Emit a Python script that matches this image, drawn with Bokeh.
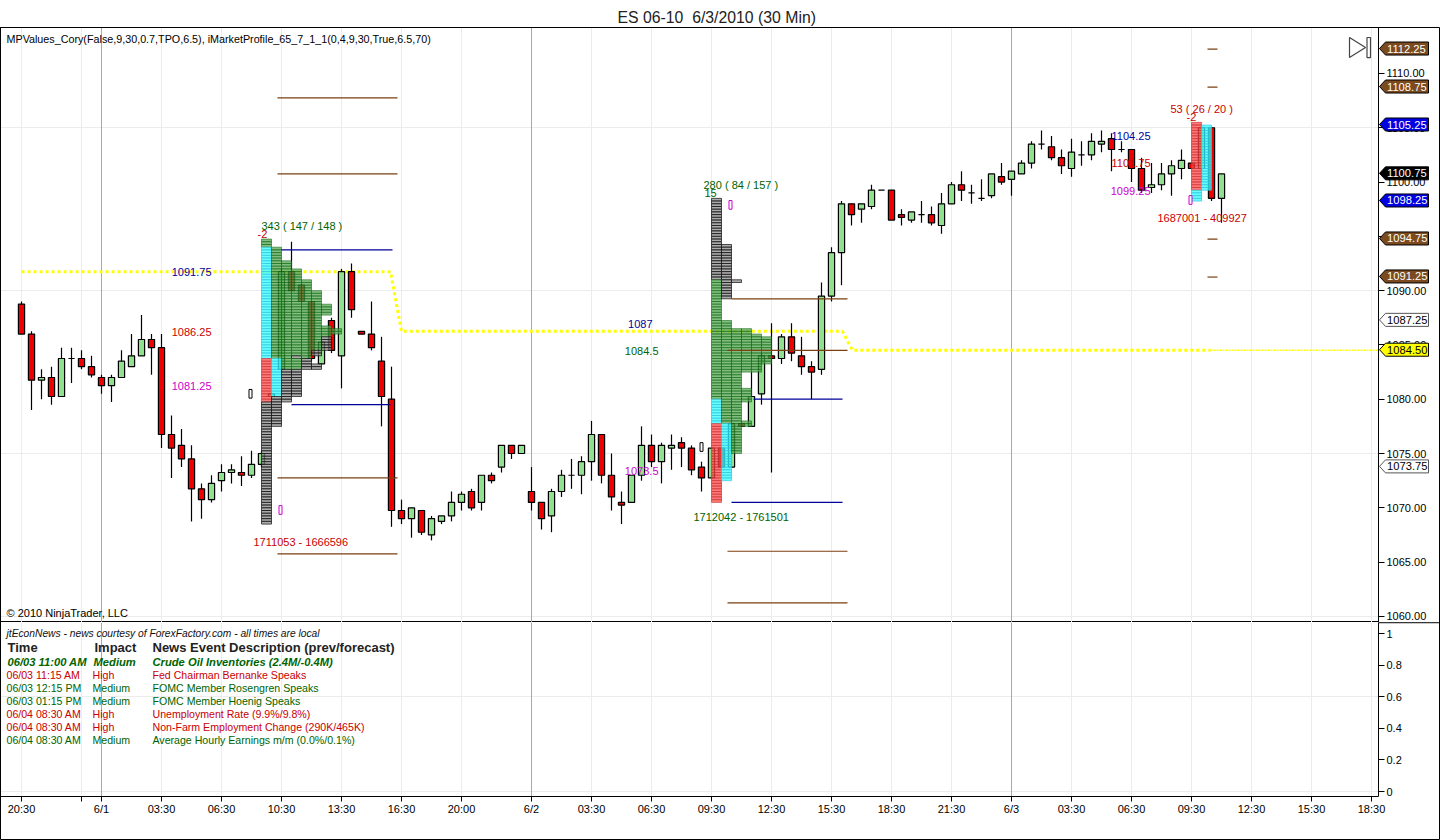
from bokeh.plotting import figure
from bokeh.layouts import column
from bokeh.models import FixedTicker, NumeralTickFormatter, Range1d, Span, ColumnDataSource
from bokeh.core.properties import value
from bokeh.embed import file_html
from bokeh.resources import INLINE

FONT = "Liberation Sans"

# ---------- candles (30 min bars) ----------
opens = [1088.75,1086,1081.75,1082,1080.25,1083.75,1083.75,1083,1082,1081.25,1082,1083,1084,1085.5,1084.75,
 1076.75,1075.75,1074.5,1071.75,1070.75,1072.5,1073.25,1073.25,1073,1074,1080.25,1082.75,1091.75,1090.5,1089,
 1083.25,1087.25,1084,1091.75,1086.25,1086,1083.5,1080,1069.75,1069,1069.75,1067.5,1068.75,1069.25,1070.5,
 1071.5,1070.5,1073,1073.75,1075.75,1075,1071.5,1070.5,1069.25,1071.5,1073,1073,1074.25,1076.75,1073,
 1070.5,1070.5,1073,1075.75,1074.25,1075.5,1076,1075.5,1073.75,1072.75,1075.5,1073.75,1077.75,1077.5,1080.5,
 1084,1083.75,1085.75,1084,1083,1082.75,1089.5,1093.5,1098,1097.5,1097.75,1099.25,1099.25,1097,1096.5,
 1097,1097,1096,1098,1099.75,1099,1098.5,1098.75,1100.5,1100.25,1100.75,1101.75,1103.5,1103.25,1102.25,
 1101.25,1102.5,1102.5,1103.5,1104,1103,1103,1101.25,1099.5,1099.75,1100.75,1101.25,1101.75,1101.25,1105,1098.5]
highs = [1089,1086.25,1082.75,1083,1084.75,1084.75,1084.5,1084,1082.25,1082.25,1084.5,1086,1087.75,1086,1086,
 1078.5,1077.25,1075.75,1072.25,1073,1074,1074,1074.75,1075.25,1075.25,1080.5,1092,1094.5,1090.5,1089,
 1085.25,1087.5,1092,1092.5,1086.25,1089,1085.75,1083,1070.75,1070,1069.75,1069.25,1069.25,1071.5,1071.5,
 1071.75,1073,1073.25,1075.75,1075.75,1075.75,1073.75,1070.5,1071.75,1073.5,1074.5,1074.75,1078,1076.75,1075,
 1071.5,1073,1077.5,1076.75,1076,1076.75,1076.5,1075.75,1074.25,1075.5,1075.5,1077.75,1077.75,1082.5,1084.25,
 1087,1086,1087,1085.75,1083.5,1090.75,1094,1098.25,1098,1098,1099.75,1099.25,1099.25,1097.5,1097.25,
 1098.25,1097.75,1099,1100,1101,1099.75,1100.25,1100.75,1101.75,1101,1102,1103.75,1104.75,1104.25,1103,
 1104,1103.75,1104.5,1104.75,1104.5,1103.75,1103,1102.25,1101.75,1101.75,1102,1103,1101.75,1105.25,1105,1100.75]
lows = [1086,1079,1080,1079.5,1080.25,1081.5,1082.75,1082,1080.5,1079.75,1082,1083,1084,1082.25,1075.5,
 1072.75,1073.75,1068.75,1069,1070.5,1071.5,1072.25,1072,1072.75,1073.75,1080.25,1082.5,1090,1089,1083.5,
 1083.25,1084.25,1081,1087.5,1086,1084.5,1077.5,1068.25,1068.5,1067.25,1067.5,1067,1068.5,1068.75,1069.75,
 1069.75,1069.75,1072.25,1073.25,1074.5,1075,1069.75,1068,1067.75,1071,1071.75,1071.25,1072.5,1072.25,1069.75,
 1068.5,1070.5,1072.5,1073.75,1072.25,1073.5,1073.75,1073,1071.5,1072.75,1073.75,1073.75,1077.5,1077.5,1079.5,
 1073.25,1083.25,1083.5,1082.25,1080,1082.25,1089,1090.5,1096,1096.25,1097.5,1099.25,1096.5,1096,1096.25,
 1096.25,1096,1095.25,1098,1098.25,1098,1098.25,1098.5,1099.75,1098.75,1100.75,1101.25,1103,1102,1100.75,
 1100.5,1101.5,1102,1102.75,1101,1102.75,1100,1099,1099,1099.25,1098.75,1100.25,1101.25,1100,1098.25,1096.25]
closes = [1086,1081.75,1082,1080.25,1083.75,1083.75,1083,1082.25,1081.25,1082,1083.5,1084,1085.5,1084.75,1076.75,
 1075.5,1074.5,1071.75,1070.75,1072.25,1073.25,1073.5,1073,1074,1075,1080.5,1091.75,1090,1089,1083.75,
 1085.25,1084.5,1091.75,1088.25,1086,1084.75,1080.25,1069.75,1069,1070,1067.75,1069,1069.25,1070.5,1071.25,
 1070,1073,1072.5,1075.75,1075,1075.75,1070.5,1069,1071.5,1073,1073,1074.25,1076.75,1073,1071,
 1070.25,1073,1075.75,1074.25,1075.75,1075.75,1075.5,1073.5,1072.75,1075.5,1073.75,1077.75,1077.5,1080.25,1084,
 1083.75,1085.75,1084.25,1083,1082.5,1089.5,1093.5,1098,1097,1098,1099.25,1099.25,1096.5,1096.75,1097.25,
 1097,1096.25,1098,1099.75,1099.25,1099,1098.5,1100.75,1100,1101,1101.75,1103.5,1103.5,1102.25,1101.5,
 1102.75,1102.5,1103.75,1103.75,1103,1103,1101.25,1099.25,1099.75,1100.75,1101.5,1102,1101.25,1105,1098.5,1100.75]

# ---------- market-profile blocks: (column, top price, bottom price, kind) ----------
profile_1_start = 24
profile_1 = [(0,1094.75,1094,"g"),(0,1094,1083.75,"c"),(0,1083.75,1079.75,"r"),(0,1079.75,1068.5,"k"),
 (1,1094,1083.75,"g"),(1,1083.75,1080.25,"c"),(1,1080.25,1077.5,"k"),
 (2,1092.75,1082.75,"g"),(2,1082.75,1079.75,"k"),
 (3,1092,1084,"g"),(3,1084,1083.75,"k"),(3,1083.75,1082.75,"g"),(3,1082.75,1080.25,"k"),
 (4,1091,1083.75,"g"),(4,1083.75,1082.75,"k"),
 (5,1090,1084.5,"g"),(5,1084.5,1084,"k"),(5,1083.25,1082.75,"k"),
 (6,1088.75,1087.75,"g"),(6,1086.75,1085.75,"g"),(6,1085.75,1084.5,"k"),
 (7,1086.5,1086,"g")]
profile_2_start = 69
profile_2 = [(0,1098.5,1091,"k"),(0,1091,1080,"g"),(0,1080,1077.75,"c"),(0,1077.75,1070.5,"r"),
 (1,1094.25,1089.25,"k"),(1,1087.25,1077.75,"g"),(1,1077.75,1072.5,"c"),
 (2,1091,1090.75,"k"),(2,1086.5,1075,"g"),
 (3,1086.5,1082.5,"g"),(3,1081,1079.75,"g"),(3,1078,1077.5,"g"),
 (4,1086,1082.5,"g"),
 (5,1085.75,1083.25,"g")]
profile_3_start = 117
profile_3 = [(0,1105.5,1099.25,"r"),(0,1099.25,1098.25,"c"),(1,1105.25,1099.25,"c")]

kind_fill = {"g": "#52a552", "k": "#8c8c8c", "c": "#30ffff", "r": "#ff4848"}
kind_line = {"g": "#0a620a", "k": "#101010", "c": "#30c4e0", "r": "#cc3030"}
kind_line_alpha = {"g": 0.72, "k": 0.95, "c": 0.9, "r": 0.85}

# ---------- value-area lines ----------
va_x0 = [26, 27, 25.6, 25.6, 25.6, 25.6, 73.2, 71, 71, 70.6, 70.6, 70.6, 118.6, 118.6, 118.6, 118.6]
va_x1 = [37.1, 36.9, 37.6, 37.6, 37.6, 37.6, 82.1, 82.1, 82.6, 82.6, 82.6, 82.6, 119.6, 119.6, 119.6, 119.6]
va_y = [1093.75, 1079.5, 1107.75, 1100.75, 1072.75, 1065.75, 1080, 1070.5, 1089.25, 1084.5, 1066, 1061.25,
        1112.25, 1108.75, 1094.75, 1091.25]
va_color = ["#000099", "#000099", "#7b3f10", "#7b3f10", "#7b3f10", "#7b3f10", "#000099", "#000099",
            "#7b3f10", "#7b3f10", "#7b3f10", "#7b3f10", "#7b3f10", "#7b3f10", "#7b3f10", "#7b3f10"]

poc_x = [0, 36.9, 38, 82.1, 83.1, 118.9]
poc_y = [1091.75, 1091.75, 1086.25, 1086.25, 1084.5, 1084.5]

# ---------- price tags on the right scale ----------
tag_values = [1112.25, 1108.75, 1105.25, 1100.75, 1098.25, 1094.75, 1091.25, 1087.25, 1084.50, 1073.75]
tag_fill = ["#7b4a1e", "#7b4a1e", "#0000e0", "#000000", "#0000e0", "#7b4a1e", "#7b4a1e", "#ffffff", "#ffff00", "#ffffff"]
tag_text = ["#ffffff", "#ffffff", "#ffffff", "#ffffff", "#ffffff", "#ffffff", "#ffffff", "#000000", "#000000", "#000000"]

# ---------- axis ----------
x_ticks = [0, 6, 8, 14, 20, 26, 32, 38, 44, 51, 57, 63, 69, 75, 81, 87, 93, 99, 105, 111, 117, 123, 129, 135]
x_labels = ["20:30", " ", "6/1", "03:30", "06:30", "10:30", "13:30", "16:30", "20:00", "6/2", "03:30", "06:30",
            "09:30", "12:30", "15:30", "18:30", "21:30", "6/3", "03:30", "06:30", "09:30", "12:30", "15:30", "18:30"]
session_breaks = [8, 51, 99]
price_ticks = [1060, 1065, 1070, 1075, 1080, 1085, 1090, 1095, 1100, 1105, 1110]
price_grid = [1060, 1075, 1090, 1105]
news_ticks = [0, 0.2, 0.4, 0.6, 0.8, 1]

# ---------- news ----------
news_times = ["06/03 11:15 AM", "06/03 12:15 PM", "06/03 01:15 PM", "06/04 08:30 AM", "06/04 08:30 AM", "06/04 08:30 AM"]
news_impact = ["High", "Medium", "Medium", "High", "High", "Medium"]
news_desc = ["Fed Chairman Bernanke Speaks", "FOMC Member Rosengren Speaks", "FOMC Member Hoenig Speaks",
             "Unemployment Rate (9.9%/9.8%)", "Non-Farm Employment Change (290K/465K)",
             "Average Hourly Earnings m/m (0.0%/0.1%)"]

RED = "#c80000"; GRN = "#006400"; NAVY = "#0000a0"; MAG = "#cc00cc"

# reference pixel -> bar index / price, for annotation placement
def bx(px): return (px - 21) / 10
def py(px): return 1100 - (px - 181.3) / 10.84

X_RANGE = (bx(0), bx(1378))
p = figure(width=1440, height=622, output_backend="svg", toolbar_location=None,
           x_range=Range1d(*X_RANGE), y_range=Range1d(py(621), py(27)),
           x_axis_location=None, y_axis_location="right",
           min_border_left=0, min_border_right=62, min_border_bottom=0, min_border_top=27,
           outline_line_color="#000000", title="ES 06-10 \u00a06/3/2010 (30 Min)")
p.title.text_font = FONT; p.title.text_font_size = "15.8px"; p.title.text_font_style = "normal"
p.title.text_color = "#222222"; p.title.offset = 617; p.title.standoff = 4

def style_axis(ax):
    ax.major_label_text_font = FONT
    ax.major_label_text_font_size = "11px"
    ax.major_label_text_color = "#000000"
    ax.axis_line_color = "#000000"
    ax.major_tick_line_color = "#000000"
    ax.major_tick_in = 0; ax.major_tick_out = 6
    ax.minor_tick_line_color = None
    ax.major_label_standoff = 2

yax = p.yaxis[0]
yax.ticker = FixedTicker(ticks=price_ticks)
yax.formatter = NumeralTickFormatter(format="0.00")
style_axis(yax)
p.ygrid.ticker = FixedTicker(ticks=price_grid)
p.ygrid.grid_line_color = "#ececec"
p.xgrid.ticker = FixedTicker(ticks=x_ticks)
p.xgrid.grid_line_color = "#ececec"
for b in session_breaks:
    p.add_layout(Span(location=b, dimension="height", line_color="#a8a8a8", line_width=1, level="underlay"))

# POC line
p.line(poc_x, poc_y, line_color="#ffff00", line_width=3, line_dash="3 3")
p.line([118.9, X_RANGE[1]], [1084.5, 1084.5], line_color="#ffff00", line_width=1.5, line_dash="2 1")

# candles
idx = list(range(len(opens)))
src = ColumnDataSource(dict(x=idx, o=opens, h=highs, l=lows, c=closes,
        top=[max(a, b) for a, b in zip(opens, closes)], bot=[min(a, b) for a, b in zip(opens, closes)],
        col=["#90e090" if c > o else ("#ee0000" if c < o else "#000000") for o, c in zip(opens, closes)]))
p.segment("x", "h", "x", "l", source=src, line_color="#000000", line_width=1.2)
p.vbar("x", 0.62, "top", "bot", source=src, fill_color="col", line_color="#000000", line_width=1.2)

# profile cells, one per 0.25 point
for start, blocks in ((profile_1_start, profile_1), (profile_2_start, profile_2), (profile_3_start, profile_3)):
    L, R, T, B, F, C, A = [], [], [], [], [], [], []
    for col, top, bot, kind in blocks:
        lev = top
        while lev > bot:
            L.append(start + col); R.append(start + col + 1.0)
            T.append(lev); B.append(lev - 0.25)
            F.append(kind_fill[kind]); C.append(kind_line[kind]); A.append(kind_line_alpha[kind])
            lev -= 0.25
    p.quad(left=L, right=R, top=T, bottom=B, fill_color=F, line_color=C,
           fill_alpha=0.72, line_alpha=A, line_width=0.75)

# value area lines over the profile
p.segment(va_x0, va_y, va_x1, va_y, line_color=va_color, line_width=1.2)

# zero-print markers
p.quad(left=[25.75, 70.75, 116.75], right=[26.05, 71.05, 117.05], top=[1070.2, 1098.3, 1098.75],
       bottom=[1069.4, 1097.5, 1097.95], fill_color="#ffffff", line_color=MAG, line_width=1)
p.quad(left=[22.75, 67.85], right=[23.05, 68.15], top=[1080.9, 1076], bottom=[1080.1, 1075.2],
       fill_color="#ffffff", line_color="#000000", line_width=1)

# chart texts
def txt(fig, fx, fy, s, color, size="11px", style="normal", align="left"):
    fig.text([fx], [fy], text=[s], text_color=color, text_font=value(FONT), text_font_size=size,
             text_font_style=style, text_align=align, text_baseline="middle")

chart_texts = [
    (6, 38, "MPValues_Cory(False,9,30,0.7,TPO,6.5), iMarketProfile_65_7_1_1(0,4,9,30,True,6.5,70)", "#000000", "left", "10.75px"),
    (6, 612, "\u00a9 2010 NinjaTrader, LLC", "#000000", "left", "11px"),
    (261, 225, "343 ( 147 / 148 )", GRN, "left", "11px"),
    (257, 233, "-2", RED, "left", "11px"),
    (211, 271, "1091.75", NAVY, "right", "11px"),
    (211, 331, "1086.25", RED, "right", "11px"),
    (211, 385, "1081.25", MAG, "right", "11px"),
    (253, 541, "1711053 - 1666596", RED, "left", "11px"),
    (652, 323, "1087", NAVY, "right", "11px"),
    (658, 350, "1084.5", GRN, "right", "11px"),
    (658, 470, "1073.5", MAG, "right", "11px"),
    (703, 184, "280 ( 84 / 157 )", GRN, "left", "11px"),
    (704, 192, "15", GRN, "left", "11px"),
    (693, 516, "1712042 - 1761501", GRN, "left", "11px"),
    (1170, 108, "53 ( 26 / 20 )", RED, "left", "11px"),
    (1186, 116, "-2", RED, "left", "11px"),
    (1150, 135, "1104.25", NAVY, "right", "11px"),
    (1150, 162, "1101.75", RED, "right", "11px"),
    (1150, 190, "1099.25", MAG, "right", "11px"),
    (1157, 217, "1687001 - 409927", RED, "left", "11px"),
]
for xp, yp, s, c, a, sz in chart_texts:
    txt(p, bx(xp), py(yp), s, c, size=sz, align=a)

# play icon, top right
p.patch([bx(1349), bx(1365), bx(1349)], [py(37), py(47), py(57)], fill_color=None, line_color="#444444", line_width=1.2)
p.quad(left=[bx(1366.5)], right=[bx(1370)], top=[py(37)], bottom=[py(57)], fill_color=None, line_color="#444444", line_width=1.2)

# ---------- lower panel ----------
def ny(px): return (791 - px) / 158

p2 = figure(width=1440, height=218, output_backend="svg", toolbar_location=None,
            x_range=Range1d(*X_RANGE), y_range=Range1d(ny(796), ny(622)),
            y_axis_location="right", min_border_left=0, min_border_right=62, min_border_bottom=44, min_border_top=0,
            outline_line_color=None)
xax = p2.xaxis[0]
xax.ticker = FixedTicker(ticks=x_ticks)
xax.major_label_overrides = {t: l for t, l in zip(x_ticks, x_labels)}
style_axis(xax)
xax.major_tick_out = 5
xax.major_label_standoff = 1
yax2 = p2.yaxis[0]
yax2.ticker = FixedTicker(ticks=news_ticks)
yax2.major_label_overrides = {0: "0", 1: "1", 0.2: "0.2", 0.4: "0.4", 0.6: "0.6", 0.8: "0.8"}
style_axis(yax2)
p2.xgrid.ticker = FixedTicker(ticks=x_ticks)
p2.xgrid.grid_line_color = "#ececec"
p2.ygrid.ticker = FixedTicker(ticks=[0, 0.6])
p2.ygrid.grid_line_color = "#ececec"
for b in session_breaks:
    p2.add_layout(Span(location=b, dimension="height", line_color="#a8a8a8", line_width=1, level="underlay"))

txt(p2, bx(6), ny(633), "jtEconNews - news courtesy of ForexFactory.com - all times are local", "#111111", size="10.25px", style="italic")
txt(p2, bx(7), ny(647), "Time", "#222222", size="13px", style="bold")
txt(p2, bx(94), ny(647), "Impact", "#222222", size="13px", style="bold")
txt(p2, bx(152), ny(647), "News Event Description (prev/forecast)", "#222222", size="13px", style="bold")
txt(p2, bx(7), ny(661), "06/03 11:00 AM", GRN, size="11.2px", style="bold italic")
txt(p2, bx(93), ny(661), "Medium", GRN, size="11.2px", style="bold italic")
txt(p2, bx(152), ny(661), "Crude Oil Inventories (2.4M/-0.4M)", GRN, size="11.2px", style="bold italic")
for i, (t, im, d) in enumerate(zip(news_times, news_impact, news_desc)):
    c = RED if im == "High" else GRN
    yy = ny(674 + 13 * i)
    txt(p2, bx(6), yy, t, c, size="10.6px")
    txt(p2, bx(92), yy, im, c, size="10.6px")
    txt(p2, bx(152), yy, d, c, size="10.6px")

# ---------- transparent overlay: outer frame and price tags over the scale ----------
ov = figure(width=1440, height=840, output_backend="svg", toolbar_location=None,
            x_range=Range1d(bx(0), bx(1440)), y_range=Range1d(py(839.5), py(27.5)),
            x_axis_location=None, y_axis_location=None,
            min_border_left=0, min_border_right=0, min_border_bottom=0, min_border_top=27,
            outline_line_color="#000000", background_fill_color=None, border_fill_color=None)
ov.frame_align = False
ov.margin = (-840, 0, 0, 0)
ov.grid.visible = False
ov.line([bx(1378), bx(1440)], [py(622), py(622)], line_color="#000000", line_width=1)
for v, f, t in zip(tag_values, tag_fill, tag_text):
    ov.patch([bx(1379), bx(1385), bx(1428), bx(1428), bx(1385)],
             [v, v + 0.6, v + 0.6, v - 0.6, v - 0.6],
             fill_color=f, line_color="#000000" if f != "#ffffff" else "#555555", line_width=1)
    txt(ov, bx(1386.5), v, f"{v:.2f}", t, size="11.2px")

layout = column(p, p2, ov, spacing=0)
open("out.html", "w").write(file_html(layout, INLINE))
